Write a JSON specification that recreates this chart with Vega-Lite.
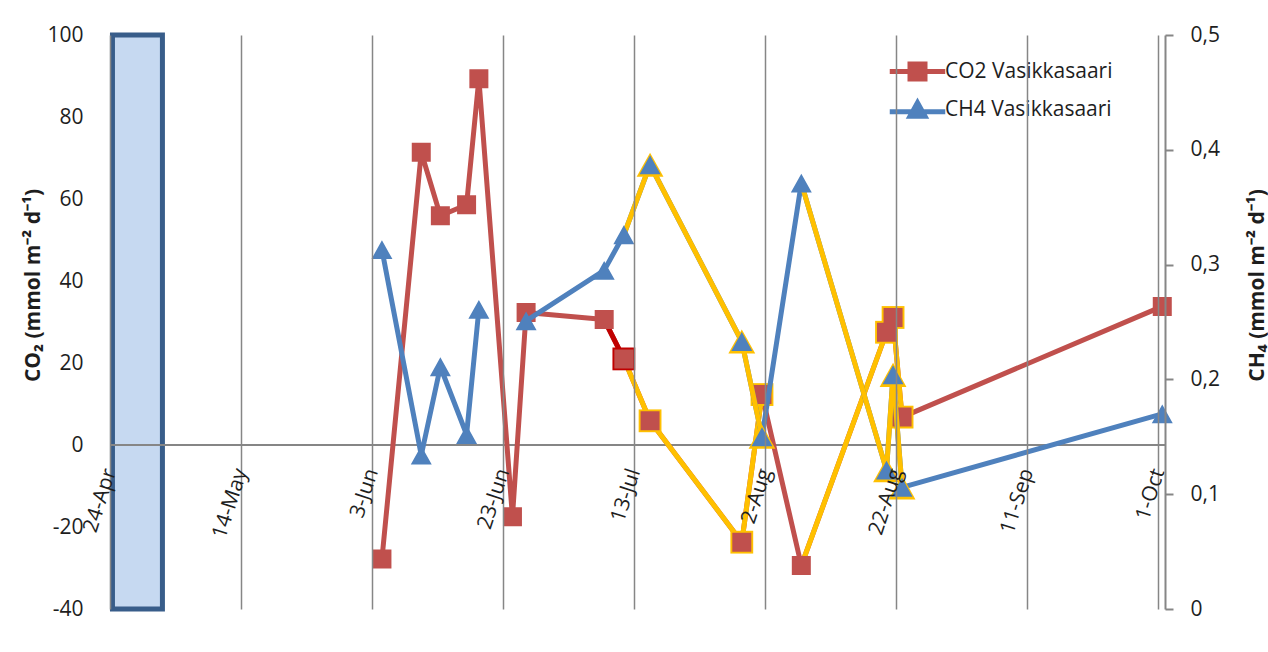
{
  "$schema": "https://vega.github.io/schema/vega-lite/v6.json",
  "width": 1055,
  "height": 574,
  "autosize": {"type": "none"},
  "padding": {"left": 110, "top": 35, "right": 103, "bottom": 43},
  "background": "white",
  "config": {
    "font": "Open Sans",
    "view": {"stroke": null},
    "point": {"strokeWidth": 5},
    "axis": {"labelFont": "Open Sans", "labelColor": "#1e1e1e", "titleFont": "Open Sans", "titleColor": "#1e1e1e"},
    "legend": {"labelFont": "Open Sans", "labelColor": "#1e1e1e"}
  },
  "datasets": {
    "flux": [
      {"date": "2011-06-04T12:00Z", "gas": "CO2 Vasikkasaari", "value": -27.8, "flag": 0},
      {"date": "2011-06-10T12:00Z", "gas": "CO2 Vasikkasaari", "value": 71.4, "flag": 0},
      {"date": "2011-06-13T10:00Z", "gas": "CO2 Vasikkasaari", "value": 55.9, "flag": 0},
      {"date": "2011-06-17T10:00Z", "gas": "CO2 Vasikkasaari", "value": 58.6, "flag": 0},
      {"date": "2011-06-19T07:00Z", "gas": "CO2 Vasikkasaari", "value": 89.3, "flag": 0},
      {"date": "2011-06-24T10:00Z", "gas": "CO2 Vasikkasaari", "value": -17.5, "flag": 0},
      {"date": "2011-06-26T12:00Z", "gas": "CO2 Vasikkasaari", "value": 32.3, "flag": 0},
      {"date": "2011-07-08T10:00Z", "gas": "CO2 Vasikkasaari", "value": 30.6, "flag": 0},
      {"date": "2011-07-11T10:00Z", "gas": "CO2 Vasikkasaari", "value": 21.0, "flag": 2},
      {"date": "2011-07-15T10:00Z", "gas": "CO2 Vasikkasaari", "value": 5.9, "flag": 1},
      {"date": "2011-07-29T10:00Z", "gas": "CO2 Vasikkasaari", "value": -23.7, "flag": 1},
      {"date": "2011-08-01T12:00Z", "gas": "CO2 Vasikkasaari", "value": 12.3, "flag": 1},
      {"date": "2011-08-07T12:00Z", "gas": "CO2 Vasikkasaari", "value": -29.4, "flag": 0},
      {"date": "2011-08-20T12:00Z", "gas": "CO2 Vasikkasaari", "value": 27.5, "flag": 1},
      {"date": "2011-08-21T12:00Z", "gas": "CO2 Vasikkasaari", "value": 31.1, "flag": 1},
      {"date": "2011-08-22T21:00Z", "gas": "CO2 Vasikkasaari", "value": 6.8, "flag": 1},
      {"date": "2011-10-01T14:00Z", "gas": "CO2 Vasikkasaari", "value": 33.8, "flag": 0},
      {"date": "2011-06-04T12:00Z", "gas": "CH4 Vasikkasaari", "value": 0.313, "flag": 0},
      {"date": "2011-06-10T12:00Z", "gas": "CH4 Vasikkasaari", "value": 0.134, "flag": 0},
      {"date": "2011-06-13T10:00Z", "gas": "CH4 Vasikkasaari", "value": 0.211, "flag": 0},
      {"date": "2011-06-17T10:00Z", "gas": "CH4 Vasikkasaari", "value": 0.152, "flag": 0},
      {"date": "2011-06-19T07:00Z", "gas": "CH4 Vasikkasaari", "value": 0.261, "flag": 0},
      {"date": "2011-06-24T10:00Z", "gas": "CH4 Vasikkasaari", "value": null, "flag": 0},
      {"date": "2011-06-26T12:00Z", "gas": "CH4 Vasikkasaari", "value": 0.251, "flag": 0},
      {"date": "2011-07-08T10:00Z", "gas": "CH4 Vasikkasaari", "value": 0.295, "flag": 0},
      {"date": "2011-07-11T10:00Z", "gas": "CH4 Vasikkasaari", "value": 0.326, "flag": 0},
      {"date": "2011-07-15T10:00Z", "gas": "CH4 Vasikkasaari", "value": 0.387, "flag": 1},
      {"date": "2011-07-29T10:00Z", "gas": "CH4 Vasikkasaari", "value": 0.233, "flag": 1},
      {"date": "2011-08-01T12:00Z", "gas": "CH4 Vasikkasaari", "value": 0.150, "flag": 1},
      {"date": "2011-08-07T12:00Z", "gas": "CH4 Vasikkasaari", "value": 0.371, "flag": 0},
      {"date": "2011-08-20T12:00Z", "gas": "CH4 Vasikkasaari", "value": 0.121, "flag": 1},
      {"date": "2011-08-21T12:00Z", "gas": "CH4 Vasikkasaari", "value": 0.204, "flag": 1},
      {"date": "2011-08-22T21:00Z", "gas": "CH4 Vasikkasaari", "value": 0.106, "flag": 1},
      {"date": "2011-10-01T14:00Z", "gas": "CH4 Vasikkasaari", "value": 0.170, "flag": 0}
    ],
    "ice": [
      {"start": "2011-04-24T09:00Z", "end": "2011-05-02T00:00Z", "low": -40, "high": 100}
    ],
    "baseline": [{"level": 0}]
  },
  "data": {"name": "flux"},
  "layer": [
    {
      "encoding": {
        "y": {
          "field": "value",
          "type": "quantitative",
          "title": "CO₂ (mmol m⁻² d⁻¹)",
          "scale": {"domain": [-40, 100], "nice": false, "zero": false},
          "axis": {
            "orient": "left",
            "values": [-40, -20, 0, 20, 40, 60, 80, 100],
            "labelExpr": "datum.value + ''",
            "domain": false,
            "ticks": false,
            "grid": false,
            "labelFontSize": 21,
            "labelPadding": 27,
            "titleFontSize": 21,
            "titleFontWeight": "bold",
            "titleAngle": -90,
            "titleAlign": "center",
            "titleBaseline": "middle",
            "titleX": -77,
            "titleY": 250
          }
        }
      },
      "layer": [
        {
          "data": {"name": "ice"},
          "mark": {"type": "rect", "fill": "#C6D9F1", "stroke": "#385D8A", "strokeWidth": 5},
          "encoding": {
            "x": {"field": "start", "type": "temporal", "title": null},
            "x2": {"field": "end"},
            "y": {"field": "low", "type": "quantitative", "title": "CO₂ (mmol m⁻² d⁻¹)"},
            "y2": {"field": "high"}
          }
        },
        {
          "data": {"name": "baseline"},
          "mark": {"type": "rule", "color": "#868686", "strokeWidth": 2},
          "encoding": {
            "y": {"field": "level", "type": "quantitative", "title": "CO₂ (mmol m⁻² d⁻¹)"}
          }
        },
        {
          "transform": [{"filter": "datum.gas === 'CO2 Vasikkasaari'"}],
          "mark": {"type": "line", "color": "#C0504D", "strokeWidth": 5, "strokeJoin": "round", "strokeCap": "round"},
          "encoding": {
            "x": {
              "field": "date",
              "type": "temporal",
              "title": null,
              "scale": {
                "type": "utc",
                "domain": [
                  {"year": 2011, "month": 4, "date": 24, "utc": true},
                  {"year": 2011, "month": 10, "date": 2, "utc": true}
                ]
              },
              "axis": {
                "orient": "bottom",
                "values": [
                  {"year": 2011, "month": 4, "date": 24, "utc": true},
                  {"year": 2011, "month": 5, "date": 14, "utc": true},
                  {"year": 2011, "month": 6, "date": 3, "utc": true},
                  {"year": 2011, "month": 6, "date": 23, "utc": true},
                  {"year": 2011, "month": 7, "date": 13, "utc": true},
                  {"year": 2011, "month": 8, "date": 2, "utc": true},
                  {"year": 2011, "month": 8, "date": 22, "utc": true},
                  {"year": 2011, "month": 9, "date": 11, "utc": true},
                  {"year": 2011, "month": 10, "date": 1, "utc": true}
                ],
                "labelExpr": "utcFormat(datum.value, '%-d-%b')",
                "offset": -164,
                "domain": false,
                "ticks": false,
                "grid": true,
                "gridColor": "#868686",
                "gridWidth": 1.5,
                "labelAngle": -72,
                "labelFontSize": 21,
                "labelPadding": 24,
                "labelOverlap": false,
                "labelFlush": false,
                "labelBound": false,
                "zindex": 1
              }
            }
          }
        },
        {
          "transform": [
            {"filter": "datum.gas === 'CO2 Vasikkasaari'"},
            {
              "window": [
                {"op": "lag", "field": "date", "as": "prev_date"},
                {"op": "lag", "field": "value", "as": "prev_value"}
              ],
              "sort": [{"field": "date", "order": "ascending"}]
            },
            {"filter": "datum.flag > 0"}
          ],
          "mark": {"type": "rule", "strokeWidth": 5, "strokeCap": "round"},
          "encoding": {
            "x": {"field": "prev_date", "type": "temporal", "title": null},
            "x2": {"field": "date"},
            "y": {"field": "prev_value", "type": "quantitative", "title": "CO₂ (mmol m⁻² d⁻¹)"},
            "y2": {"field": "value"},
            "color": {
              "field": "flag",
              "type": "nominal",
              "scale": {"domain": [1, 2], "range": ["#FFC000", "#C00000"]},
              "legend": null
            }
          }
        },
        {
          "transform": [
            {"filter": "datum.gas === 'CO2 Vasikkasaari'"},
            {"filter": "datum.flag > 0"}
          ],
          "mark": {"type": "point", "shape": "square", "filled": true, "size": 520, "opacity": 1},
          "encoding": {
            "x": {"field": "date", "type": "temporal", "title": null},
            "color": {
              "field": "flag",
              "type": "nominal",
              "scale": {"domain": [1, 2], "range": ["#FFC000", "#C00000"]},
              "legend": null
            }
          }
        },
        {
          "transform": [{"filter": "datum.gas === 'CO2 Vasikkasaari'"}],
          "mark": {"type": "point", "filled": true, "size": 361, "opacity": 1},
          "encoding": {
            "x": {"field": "date", "type": "temporal", "title": null},
            "strokeWidth": {"value": 0},
            "fill": {
              "field": "gas",
              "type": "nominal",
              "scale": {"domain": ["CO2 Vasikkasaari", "CH4 Vasikkasaari"], "range": ["#C0504D", "#4F81BD"]},
              "legend": {
                "title": null, "orient": "none", "legendX": 797, "legendY": 26, "padding": 0,
                "labelFontSize": 21, "labelLimit": 400, "labelOffset": 17, "rowPadding": 3,
                "symbolSize": 225, "symbolStrokeWidth": 5
              }
            },
            "stroke": {
              "field": "gas",
              "type": "nominal",
              "scale": {"domain": ["CO2 Vasikkasaari", "CH4 Vasikkasaari"], "range": ["#C0504D", "#4F81BD"]},
              "legend": {
                "title": null, "orient": "none", "legendX": 797, "legendY": 26, "padding": 0,
                "labelFontSize": 21, "labelLimit": 400, "labelOffset": 17, "rowPadding": 3,
                "symbolSize": 225, "symbolStrokeWidth": 5
              }
            },
            "shape": {
              "field": "gas",
              "type": "nominal",
              "scale": {
                "domain": ["CO2 Vasikkasaari", "CH4 Vasikkasaari"],
                "range": ["M-3.7,0H3.7M-1,-1H1V1H-1Z", "M-3.7,0.3H3.7M0,-0.9L1,0.9L-1,0.9Z"]
              },
              "legend": {
                "title": null, "orient": "none", "legendX": 797, "legendY": 26, "padding": 0,
                "labelFontSize": 21, "labelLimit": 400, "labelOffset": 17, "rowPadding": 3,
                "symbolSize": 225, "symbolStrokeWidth": 5
              }
            }
          }
        }
      ]
    },
    {
      "encoding": {
        "y": {
          "field": "value",
          "type": "quantitative",
          "title": "CH₄ (mmol m⁻² d⁻¹)",
          "scale": {"domain": [0, 0.5], "nice": false},
          "axis": {
            "orient": "right",
            "values": [0, 0.1, 0.2, 0.3, 0.4, 0.5],
            "labelExpr": "datum.value == 0 ? '0' : replace(format(datum.value, '.1f'), '.', ',')",
            "domain": true,
            "domainColor": "#868686",
            "domainWidth": 2,
            "ticks": true,
            "tickSize": 8,
            "tickColor": "#868686",
            "tickWidth": 2,
            "grid": false,
            "labelFontSize": 21,
            "labelPadding": 17,
            "titleFontSize": 21,
            "titleFontWeight": "bold",
            "titleAngle": -90,
            "titleAlign": "center",
            "titleBaseline": "middle",
            "titleX": 92,
            "titleY": 250,
            "zindex": 1
          }
        }
      },
      "layer": [
        {
          "transform": [{"filter": "datum.gas === 'CH4 Vasikkasaari'"}],
          "mark": {"type": "line", "color": "#4F81BD", "strokeWidth": 5, "strokeJoin": "round", "strokeCap": "round", "invalid": "break-paths-filter-domains"},
          "encoding": {
            "x": {"field": "date", "type": "temporal", "title": null}
          }
        },
        {
          "transform": [
            {"filter": "datum.gas === 'CH4 Vasikkasaari'"},
            {
              "window": [
                {"op": "lag", "field": "date", "as": "prev_date"},
                {"op": "lag", "field": "value", "as": "prev_value"}
              ],
              "sort": [{"field": "date", "order": "ascending"}]
            },
            {"filter": "datum.flag > 0"}
          ],
          "mark": {"type": "rule", "strokeWidth": 5, "strokeCap": "round"},
          "encoding": {
            "x": {"field": "prev_date", "type": "temporal", "title": null},
            "x2": {"field": "date"},
            "y": {"field": "prev_value", "type": "quantitative", "title": "CH₄ (mmol m⁻² d⁻¹)"},
            "y2": {"field": "value"},
            "color": {
              "field": "flag",
              "type": "nominal",
              "scale": {"domain": [1, 2], "range": ["#FFC000", "#C00000"]},
              "legend": null
            }
          }
        },
        {
          "transform": [
            {"filter": "datum.gas === 'CH4 Vasikkasaari'"},
            {"filter": "datum.flag > 0"}
          ],
          "mark": {"type": "point", "shape": "M0,-0.9L1,0.9L-1,0.9Z", "filled": true, "size": 720, "opacity": 1},
          "encoding": {
            "x": {"field": "date", "type": "temporal", "title": null},
            "color": {
              "field": "flag",
              "type": "nominal",
              "scale": {"domain": [1, 2], "range": ["#FFC000", "#C00000"]},
              "legend": null
            }
          }
        },
        {
          "transform": [{"filter": "datum.gas === 'CH4 Vasikkasaari'"}],
          "mark": {"type": "point", "filled": true, "size": 440, "opacity": 1},
          "encoding": {
            "x": {"field": "date", "type": "temporal", "title": null},
            "strokeWidth": {"value": 0},
            "fill": {
              "field": "gas",
              "type": "nominal",
              "scale": {"domain": ["CO2 Vasikkasaari", "CH4 Vasikkasaari"], "range": ["#C0504D", "#4F81BD"]},
              "legend": {
                "title": null, "orient": "none", "legendX": 797, "legendY": 26, "padding": 0,
                "labelFontSize": 21, "labelLimit": 400, "labelOffset": 17, "rowPadding": 3,
                "symbolSize": 225, "symbolStrokeWidth": 5
              }
            },
            "stroke": {
              "field": "gas",
              "type": "nominal",
              "scale": {"domain": ["CO2 Vasikkasaari", "CH4 Vasikkasaari"], "range": ["#C0504D", "#4F81BD"]},
              "legend": {
                "title": null, "orient": "none", "legendX": 797, "legendY": 26, "padding": 0,
                "labelFontSize": 21, "labelLimit": 400, "labelOffset": 17, "rowPadding": 3,
                "symbolSize": 225, "symbolStrokeWidth": 5
              }
            },
            "shape": {
              "field": "gas",
              "type": "nominal",
              "scale": {
                "domain": ["CO2 Vasikkasaari", "CH4 Vasikkasaari"],
                "range": ["M-3.7,0H3.7M-1,-1H1V1H-1Z", "M-3.7,0.3H3.7M0,-0.9L1,0.9L-1,0.9Z"]
              },
              "legend": {
                "title": null, "orient": "none", "legendX": 797, "legendY": 26, "padding": 0,
                "labelFontSize": 21, "labelLimit": 400, "labelOffset": 17, "rowPadding": 3,
                "symbolSize": 225, "symbolStrokeWidth": 5
              }
            }
          }
        }
      ]
    }
  ],
  "resolve": {"scale": {"y": "independent"}, "axis": {"y": "independent"}}
}
